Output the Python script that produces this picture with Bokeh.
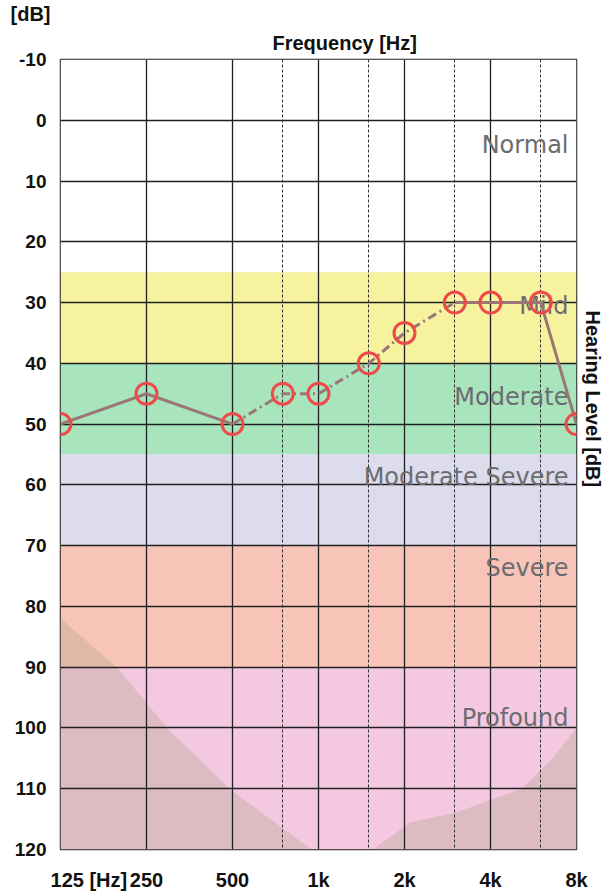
import math
from bokeh.plotting import figure
from bokeh.models import (Range1d, FixedTicker, Grid, ColumnDataSource, Title)
from bokeh.core.properties import value
from bokeh.embed import file_html
from bokeh.resources import INLINE

# ---- data ----
freqs = [125, 250, 500, 750, 1000, 1500, 2000, 3000, 4000, 6000, 8000]
levels = [50, 45, 50, 45, 45, 40, 35, 30, 30, 30, 50]

octave_ticks = [125, 250, 500, 1000, 2000, 4000, 8000]
octave_labels = ["\u00a0" * 9 + "125 [Hz]", "250", "500", "1k", "2k", "4k", "8k"]
mid_ticks = [750, 1500, 3000, 6000]
db_ticks = list(range(-10, 121, 10))
db_labels = ["-10"] + [str(v) for v in range(0, 121, 10)]

band_names = ["Normal", "Mild", "Moderate", "Moderate Severe", "Severe", "Profound"]
band_top = [-10, 25, 40, 55, 70, 90]
band_bottom = [25, 40, 55, 70, 90, 120]
band_colors = ["#ffffff", "#f6f29e", "#a8e4bc", "#dcdcec", "#f8c4b8", "#f4c8e0"]
band_label_level = [4, 30.5, 45.5, 58.7, 73.7, 98.3]

# out-of-range shaded regions (freq, dB)
low_region_f = [125, 197, 295, 488, 945, 125]
low_region_db = [82, 90, 100, 110, 120, 120]
high_region_f = [8000, 6600, 5150, 3000, 2100, 1550, 8000]
high_region_db = [100, 105, 110, 114, 115.5, 120, 120]

FONT = "Liberation Sans"
W, H = 610, 893
p = figure(width=W, height=H, x_axis_type="log", output_backend="svg", title=None,
           toolbar_location=None, x_range=Range1d(125, 8000), y_range=Range1d(120, -10),
           min_border_left=60, min_border_right=34, min_border_top=59, min_border_bottom=36,
           background_fill_color="white", border_fill_color="white")

p.outline_line_color = "#202020"
p.outline_line_width = 1.5

# bands
bsrc = ColumnDataSource(dict(top=band_top, bottom=band_bottom, color=band_colors))
p.quad(left=125, right=8000, top="top", bottom="bottom", fill_color="color",
       line_color=None, source=bsrc, level="image")

# shaded regions
p.patch(low_region_f, low_region_db, fill_color="#b4a48e", fill_alpha=0.36, line_color=None, level="image")
p.patch(high_region_f, high_region_db, fill_color="#b4a48e", fill_alpha=0.36, line_color=None, level="image")

# grids
p.xgrid.ticker = FixedTicker(ticks=octave_ticks)
p.xgrid.grid_line_color = "#202020"
p.xgrid.grid_line_width = 1.3
p.ygrid.ticker = FixedTicker(ticks=db_ticks)
p.ygrid.grid_line_color = "#202020"
p.ygrid.grid_line_width = 1.3
p.add_layout(Grid(dimension=0, ticker=FixedTicker(ticks=mid_ticks), grid_line_color="#303030",
                  grid_line_width=1, grid_line_dash="3 2"))

# axes
xa = p.xaxis[0]
xa.ticker = FixedTicker(ticks=octave_ticks)
xa.major_label_overrides = {t: l for t, l in zip(octave_ticks, octave_labels)}
xa.minor_tick_line_color = None
xa.major_tick_line_color = None
xa.axis_line_color = None
xa.major_label_text_font = FONT
xa.major_label_text_font_style = "bold"
xa.major_label_text_font_size = "20px"
xa.major_label_text_color = "#111111"
xa.major_label_standoff = 13

ya = p.yaxis[0]
ya.ticker = FixedTicker(ticks=db_ticks)
ya.major_label_overrides = {t: l for t, l in zip(db_ticks, db_labels)}
ya.major_tick_line_color = None
ya.minor_tick_line_color = None
ya.axis_line_color = None
ya.major_label_text_font = FONT
ya.major_label_text_font_style = "bold"
ya.major_label_text_font_size = "19px"
ya.major_label_text_color = "#111111"
ya.major_label_standoff = 8

# titles
p.add_layout(Title(text="Frequency [Hz]", align="left", offset=212, text_font=FONT,
                   text_font_size="20px", text_font_style="bold", text_color="#111111",
                   standoff=11), "above")
p.add_layout(Title(text="[dB]", align="left", offset=-50, text_font=FONT,
                   text_font_size="20px", text_font_style="bold", text_color="#111111",
                   standoff=0), "above")
p.add_layout(Title(text="Hearing Level [dB]", align="left", offset=251, text_font=FONT,
                   text_font_size="20px", text_font_style="bold", text_color="#111111",
                   standoff=10), "right")

# band labels
lsrc = ColumnDataSource(dict(x=[8000] * len(band_names), y=band_label_level, t=band_names))
p.text(x="x", y="y", text="t", source=lsrc, text_align="right", text_baseline="middle",
       x_offset=-8, text_font=value("DejaVu Sans"), text_font_size="24px", text_color="#6c6c70")

# audiogram line
p.line(freqs[:3], levels[:3], line_color="#9a7676", line_width=3)
p.line(freqs[2:8], levels[2:8], line_color="#9a7676", line_width=3, line_dash="9 4 2 4")
p.line(freqs[7:], levels[7:], line_color="#9a7676", line_width=3)
p.scatter(freqs, levels, size=21, marker="circle", fill_color=None, line_color="#ee4a4a", line_width=3)

open("out.html", "w").write(file_html(p, INLINE))
